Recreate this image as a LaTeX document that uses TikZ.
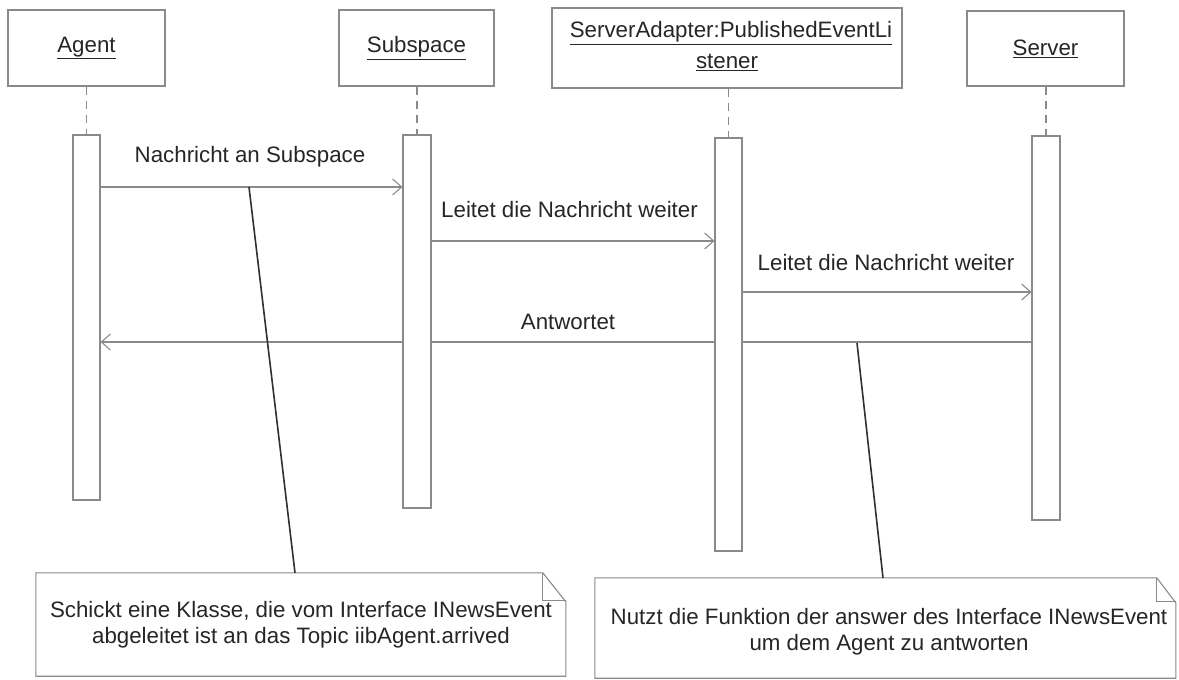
\documentclass[tikz,border=0pt]{standalone}
\usepackage{fontspec}
\setmainfont{Liberation Sans}
\usetikzlibrary{arrows.meta}
\pgfdeclarelayer{bg}
\pgfsetlayers{bg,main}
\definecolor{linegray}{HTML}{8A8A8A}
\definecolor{txt}{HTML}{262626}
\definecolor{anchorln}{HTML}{303030}
\begin{document}
\begin{tikzpicture}[x=1pt,y=-1pt,
  every node/.style={font=\fontsize{22.3}{26}\selectfont, text=txt, inner sep=0pt},
  objbox/.style={draw=linegray, line width=1.1pt, rectangle, minimum height=76pt},
  actbar/.style={draw=linegray, line width=1.1pt, fill=white, rectangle, minimum width=27pt},
  lifeline/.style={draw=linegray, line width=1.1pt, dash pattern=on 8pt off 6pt},
  msg/.style={draw=linegray, line width=1.1pt, -{Straight Barb[length=9pt,width=16pt,line width=1.1pt]}},
  notebox/.style={draw=linegray, line width=1.1pt, fill=white},
  noteline/.style={draw=anchorln, line width=1.6pt}]
\useasboundingbox (0,0) rectangle (1179,680);
\begin{pgfonlayer}{bg}
\fill[white] (0,0) rectangle (1179,680);
\end{pgfonlayer}

% object heads
\node[objbox, minimum width=157pt] (hAgent) at (86.5,48) {\underline{Agent}};
\node[objbox, minimum width=155pt] (hSub) at (416.5,48) {\underline{Subspace}};
\node[objbox, minimum width=350pt, minimum height=80pt] (hAdp) at (727,48) {};
\node (tAdp1) at (731,33) {\underline{ServerAdapter:PublishedEventLi}};
\node (tAdp2) at (727,62) {\underline{stener}};
\node[objbox, minimum width=157pt, minimum height=75pt] (hSrv) at (1045.5,48.5) {\underline{Server}};

% activation bars
\node[actbar, minimum height=365pt] (aAgent) at (86.5,317.5) {};
\node[actbar, minimum width=28pt, minimum height=373pt] (aSub) at (417,321.5) {};
\node[actbar, minimum height=413pt] (aAdp) at (728.5,344.5) {};
\node[actbar, minimum width=28pt, minimum height=384pt] (aSrv) at (1046,328) {};

% lifelines
\draw[lifeline] (hAgent.south) -- (aAgent.north);
\draw[lifeline] (hSub.south -| aSub.north) -- (aSub.north);
\draw[lifeline] (hAdp.south -| aAdp.north) -- (aAdp.north);
\draw[lifeline] (hSrv.south -| aSrv.north) -- (aSrv.north);

% messages
\draw[msg] (aAgent.east |- 0,187) -- (aSub.west |- 0,187);
\node (l1) at (250,157) {Nachricht an Subspace};
\draw[msg] (aSub.east |- 0,241) -- (aAdp.west |- 0,241);
\node (l2) at (569.5,210) {Leitet die Nachricht weiter};
\draw[msg] (aAdp.east |- 0,292) -- (aSrv.west |- 0,292);
\node (l3) at (886,263) {Leitet die Nachricht weiter};
% the reply runs behind the intermediate activation bars
\begin{pgfonlayer}{bg}
\draw[msg] (aSrv.west |- 0,342) -- (aAgent.east |- 0,342);
\end{pgfonlayer}
\node (l4) at (568,322) {Antwortet};

% notes
\node[minimum width=530pt, minimum height=103pt] (n1) at (301,624.5) {};
\draw[notebox] (n1.north west) -- ++(507,0) -- ++(23,29) |- (n1.south west) -- cycle;
\draw[linegray, line width=1.1pt] (n1.north west) ++(507,0) -- ++(0,28) -- ++(23,0);
\node[align=center] (tn1) at (301,625) {Schickt eine Klasse, die vom Interface INewsEvent\\abgeleitet ist an das Topic iibAgent.arrived};

\node[minimum width=581pt, minimum height=100pt] (n2) at (885.5,628) {};
\draw[notebox] (n2.north west) -- ++(562,0) -- ++(19,25) |- (n2.south west) -- cycle;
\draw[linegray, line width=1.1pt] (n2.north west) ++(562,0) -- ++(0,24) -- ++(19,0);
\node[align=center] (tn2) at (889,632) {Nutzt die Funktion der answer des Interface INewsEvent\\um dem Agent zu antworten};

% note anchors
\coordinate (c1) at (249,187);
\coordinate (c2) at (857,343);
\draw[noteline] (c1) -- (n1.north -| 295,0);
\draw[noteline] (c2) -- (n2.north -| 883,0);
\end{tikzpicture}
\end{document}
